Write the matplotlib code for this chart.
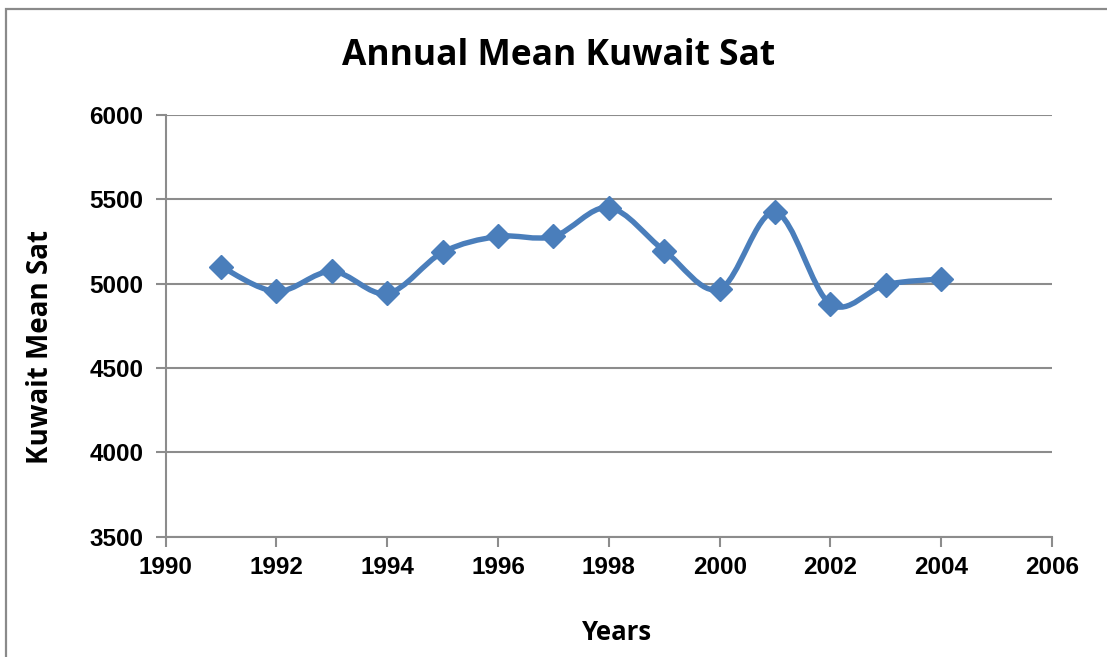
import numpy as np
import matplotlib
matplotlib.use("Agg")
import matplotlib.pyplot as plt
from matplotlib.path import Path
from matplotlib.patches import PathPatch, Rectangle

years = [1991, 1992, 1993, 1994, 1995, 1996, 1997, 1998, 1999, 2000, 2001, 2002, 2003, 2004]
values = [5101, 4954, 5073, 4942, 5186, 5280, 5280, 5451, 5196, 4968, 5424, 4879, 4994, 5028]
xticks = [1990, 1992, 1994, 1996, 1998, 2000, 2002, 2004, 2006]
yticks = [3500, 4000, 4500, 5000, 5500, 6000]

title = "Annual Mean Kuwait Sat"
xlabel = "Years"
ylabel = "Kuwait Mean Sat"

W, H = 1107, 657
fig = plt.figure(figsize=(W / 100, H / 100), dpi=100)
fig.patch.set_facecolor("white")

# chart-area border
fig.patches.append(Rectangle((6 / W, -0.1), 2, 1 - 9 / H + 0.1, transform=fig.transFigure,
                             fill=False, edgecolor="#8a8a8a", linewidth=1.6, zorder=0))

ax = fig.add_axes([165.7 / W, 1 - 536.7 / H, (1052 - 165.7) / W, (536.7 - 115) / H])
ax.set_xlim(1990, 2006)
ax.set_ylim(3500, 6000)
ax.set_xticks(xticks)
ax.set_yticks(yticks)

grid_c = "#8c8c8c"
ax.grid(axis="y", color=grid_c, linewidth=1.5)
ax.set_axisbelow(True)
for s in ["top", "right"]:
    ax.spines[s].set_visible(False)
for s in ["left", "bottom"]:
    ax.spines[s].set_color(grid_c)
    ax.spines[s].set_linewidth(1.5)
ax.tick_params(axis="both", direction="out", length=7, width=1.5, color=grid_c)
ax.tick_params(axis="x", pad=7)
ax.tick_params(axis="y", pad=9)
for lab in ax.get_xticklabels() + ax.get_yticklabels():
    lab.set_fontfamily("Liberation Sans")
    lab.set_fontweight("bold")
    lab.set_fontsize(17.5)

# smoothed line (Excel-style Catmull-Rom bezier)
x = np.array(years, float)
y = np.array(values, float)
n = len(x)
verts = [(x[0], y[0])]
codes = [Path.MOVETO]
t = 1.0 / 6.0
for i in range(n - 1):
    p0 = (x[i - 1], y[i - 1]) if i > 0 else (x[i], y[i])
    p1 = (x[i], y[i])
    p2 = (x[i + 1], y[i + 1])
    p3 = (x[i + 2], y[i + 2]) if i + 2 < n else (x[i + 1], y[i + 1])
    c1 = (p1[0] + (p2[0] - p0[0]) * t, p1[1] + (p2[1] - p0[1]) * t)
    c2 = (p2[0] - (p3[0] - p1[0]) * t, p2[1] - (p3[1] - p1[1]) * t)
    verts += [c1, c2, p2]
    codes += [Path.CURVE4] * 3
line_c = "#4a7ebb"
ax.add_patch(PathPatch(Path(verts, codes), fill=False, edgecolor=line_c, linewidth=3.9,
                       capstyle="round", joinstyle="round", zorder=3))
ax.plot(years, values, linestyle="none", marker="D", markersize=12, color=line_c,
        markeredgecolor=line_c, zorder=4, clip_on=False)

hf = "Open Sans"
fig.text(559 / W, 1 - 56 / H, title, ha="center", va="center", fontsize=25.5,
         fontweight="bold", fontfamily=hf)
fig.text(617 / W, 1 - 633 / H, xlabel, ha="center", va="center", fontsize=18.5,
         fontweight="bold", fontfamily=hf)
fig.text(41 / W, 1 - 346.5 / H, ylabel, ha="center", va="center", fontsize=20,
         fontweight="bold", fontfamily=hf, rotation=90)

fig.savefig("out.png", dpi=100)
